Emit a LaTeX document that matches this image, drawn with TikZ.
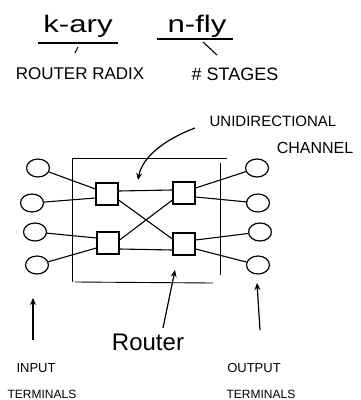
\documentclass[tikz,border=0pt]{standalone}
\usepackage{fontspec}
\setmainfont{Liberation Sans}
\newfontfamily\widefont[FakeStretch=1.3]{Liberation Sans}
\usetikzlibrary{shapes.geometric,arrows.meta}
\begin{document}
\begin{tikzpicture}[x=1pt,y=-1pt,
  term/.style={ellipse,draw,line width=1.2pt,minimum width=23pt,minimum height=18pt,inner sep=0pt},
  rtr/.style={rectangle,draw,line width=1.2pt,minimum size=22pt,inner sep=0pt},
  wire/.style={line width=1.1pt},
  frame/.style={line width=0.9pt},
  lbl/.style={inner sep=0pt,anchor=base},
  arr/.style={line width=1.2pt,-{Stealth[length=7pt,width=6pt]}}]
\useasboundingbox (0,0) rectangle (360,400);
% top labels
\node[lbl,font=\widefont\fontsize{24}{24}\selectfont] (kary) at (78,32) {k-ary};
\node[lbl,font=\widefont\fontsize{24}{24}\selectfont] (nfly) at (197,32) {n-fly};
\node[lbl,font=\fontsize{17}{17}\selectfont] (radix) at (80,79) {ROUTER RADIX};
\node[lbl,font=\fontsize{18}{18}\selectfont] (stages) at (235,80) {\# STAGES};
\draw[wire] (38,43) -- (118,43);
\draw[wire] (157,39) -- (233,39);
\coordinate (t1a) at (78,47); \coordinate (t1b) at (75,53);
\coordinate (t2a) at (203,42); \coordinate (t2b) at (217,55);
\draw[wire] (t1a) -- (t1b);
\draw[wire] (t2a) -- (t2b);
% channel label
\node[lbl,font=\fontsize{15}{15}\selectfont] (uni) at (273,126) {UNIDIRECTIONAL};
\node[lbl,font=\fontsize{16}{16}\selectfont] (chan) at (315,153) {CHANNEL};
% frame
\draw[frame] (72,158) -- (227,158);
\draw[frame] (72,158) -- (72,282);
\draw[frame] (75,282) -- (213,283);
\draw[frame] (220,163) -- (220,275);
% terminals
\node[term] (i1) at (38,168) {};
\node[term] (i2) at (32,203) {};
\node[term] (i3) at (35,232) {};
\node[term] (i4) at (37,265) {};
\node[term] (o1) at (257,168) {};
\node[term] (o2) at (258,203) {};
\node[term] (o3) at (260,232) {};
\node[term] (o4) at (258,265) {};
% routers
\node[rtr] (r11) at (107,194) {};
\node[rtr] (r12) at (184,193) {};
\node[rtr] (r21) at (108,243) {};
\node[rtr] (r22) at (184,244) {};
% input wires
\draw[wire] (i1) -- ([yshift=5pt]r11.west);
\draw[wire] (i2) -- ([yshift=-4pt]r11.west);
\draw[wire] (i3) -- ([yshift=5pt]r21.west);
\draw[wire] (i4) -- ([yshift=-5pt]r21.west);
% output wires
\draw[wire] ([yshift=5pt]r12.east) -- (o1);
\draw[wire] ([yshift=-4pt]r12.east) -- (o2);
\draw[wire] ([yshift=4pt]r22.east) -- (o3);
\draw[wire] ([yshift=-5pt]r22.east) -- (o4);
% channels
\draw[wire] ([yshift=3pt]r11.east) -- ([yshift=3pt]r12.west);
\draw[wire] ([yshift=-6pt]r11.east) -- ([yshift=5pt]r22.west);
\draw[wire] ([yshift=3pt]r21.east) -- ([yshift=-7pt]r12.west);
\draw[wire] ([yshift=-6pt]r21.east) -- ([yshift=-6pt]r22.west);
% channel arrow
\coordinate (cha) at (195,128);
\coordinate (chb) at (138,180);
\draw[arr] (cha) .. controls (163,140) and (142,158) .. (chb);
% router label and arrow
\node[lbl,font=\fontsize{24}{24}\selectfont] (rlbl) at (148,350) {Router};
\coordinate (ra) at (163,328); \coordinate (rb) at (175,270);
\draw[arr] (ra) -- (rb);
% terminal labels and arrows
\node[lbl,font=\fontsize{13}{13}\selectfont] (inl1) at (36,372) {INPUT};
\node[lbl,font=\fontsize{12}{12}\selectfont] (inl2) at (42,398) {TERMINALS};
\node[lbl,font=\fontsize{13}{13}\selectfont] (outl1) at (254,372) {OUTPUT};
\node[lbl,font=\fontsize{12}{12}\selectfont] (outl2) at (261,398) {TERMINALS};
\coordinate (ia) at (33,340); \coordinate (ib) at (33,298);
\coordinate (oa) at (260,330); \coordinate (ob) at (257,283);
\draw[arr] (ia) -- (ib);
\draw[arr] (oa) -- (ob);
\end{tikzpicture}
\end{document}
